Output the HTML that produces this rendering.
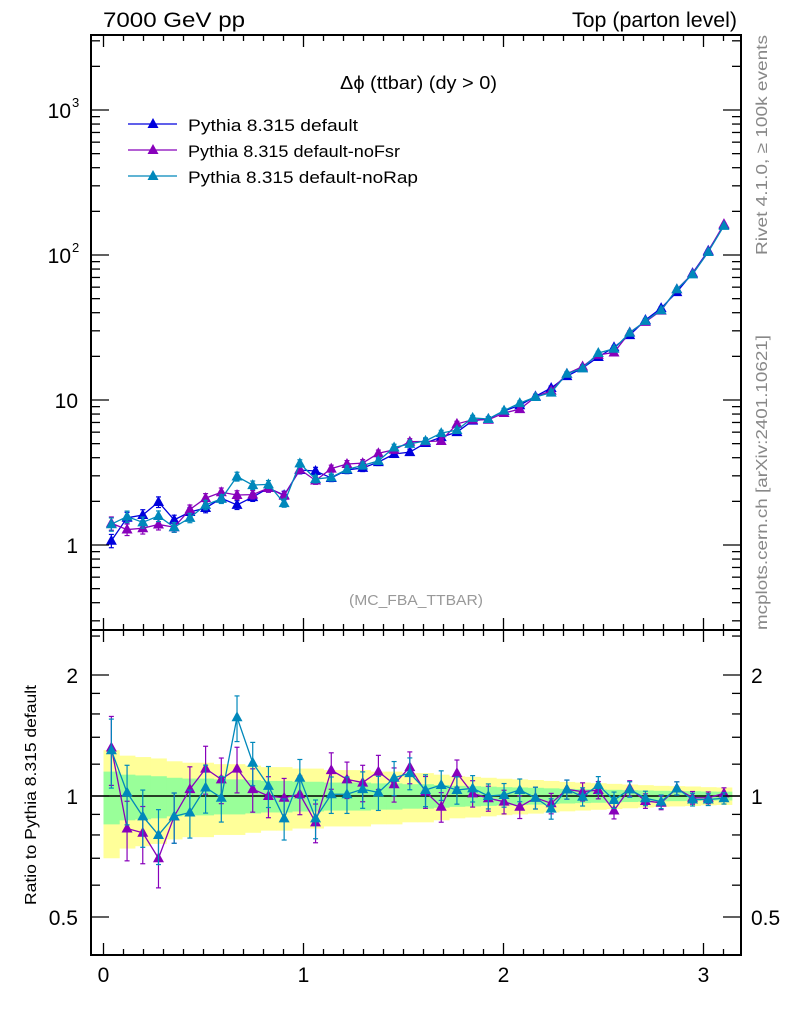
<!DOCTYPE html>
<html><head><meta charset="utf-8"><style>
html,body{margin:0;padding:0;background:#fff;}
svg{display:block;font-family:"Liberation Sans",Arial,sans-serif;}
</style></head><body>
<svg id="chart" width="786" height="1024" viewBox="0 0 786 1024"></svg>
<script>
const binEdgesCount = 40;
const binWidth = Math.PI/40;
const defaultVals = [1.07,1.54,1.61,1.98,1.49,1.69,1.80,2.10,1.89,2.14,2.47,2.21,3.29,3.24,2.90,3.29,3.40,3.73,4.24,4.37,5.05,5.55,6.0,7.2,7.4,8.4,9.2,10.6,12.1,14.6,16.6,19.8,23.1,28,35.6,43,55.5,75,107,161];
const ratioNoFsr = [1.32,0.83,0.81,0.70,0.89,1.04,1.17,1.10,1.17,1.04,1.0,0.99,1.01,0.86,1.16,1.10,1.08,1.15,1.07,1.18,1.025,0.94,1.14,1.015,0.987,0.968,0.94,0.99,0.959,1.039,1.025,1.035,0.92,1.045,0.972,0.962,1.045,0.99,0.99,1.015];
const ratioNoRap = [1.30,1.02,0.89,0.80,0.89,0.91,1.05,0.99,1.57,1.21,1.06,0.88,1.11,0.88,1.01,1.01,1.04,1.02,1.11,1.14,1.035,1.065,1.035,1.045,1.0,1.006,1.035,0.99,0.93,1.039,0.996,1.065,0.977,1.039,0.987,0.968,1.045,0.98,0.98,0.987];
const errRel = [0.15,0.13,0.125,0.12,0.11,0.105,0.105,0.10,0.10,0.095,0.09,0.09,0.085,0.085,0.08,0.08,0.08,0.075,0.075,0.07,0.07,0.065,0.06,0.058,0.055,0.052,0.05,0.048,0.045,0.042,0.04,0.038,0.036,0.034,0.032,0.03,0.029,0.028,0.026,0.025];
const xTickLabels = ["0","1","2","3"];
const yMainLabels = [["1",0],["10",1],["10²",2],["10³",3]];
const yRatioLabels = [["0.5",0.5],["1",1],["2",2]];

const NS="http://www.w3.org/2000/svg";
const svg=document.getElementById('chart');
function el(tag,attrs,parent){const e=document.createElementNS(NS,tag);for(const k in attrs)e.setAttribute(k,attrs[k]);(parent||svg).appendChild(e);return e;}
const L=91,R=741,T=35,MB=630,RB=955;
const xmin=-0.0625,xmax=3.1875;
function X(v){return L+(v-xmin)/(xmax-xmin)*(R-L);}
function YM(v){return 545-Math.log10(v)*145;}
function YR(r){return 796-Math.log2(r)*121;}
const ratioVals={noFsr:ratioNoFsr,noRap:ratioNoRap};

const gB=el('g',{});


for(let i=0;i<binEdgesCount;i++){
  const x0=X(i*binWidth),x1=X((i+1)*binWidth);
  const e=errRel[i];
  const y=el('rect',{x:x0,y:YR(1+2*e),width:x1-x0+0.5,height:YR(Math.max(1-2*e,0.05))-YR(1+2*e),fill:'#ffff99'},gB);
  
  
}
for(let i=0;i<binEdgesCount;i++){
  const x0=X(i*binWidth),x1=X((i+1)*binWidth);
  const e=errRel[i];
  const g=el('rect',{x:x0,y:YR(1+e),width:x1-x0+0.5,height:YR(1-e)-YR(1+e),fill:'#99ff99'},gB);
  
  
}
const ref=el('line',{x1:L,x2:R,y1:YR(1),y2:YR(1),stroke:'#000','stroke-width':1.5});



function tri(x,y,c,g){return el('polygon',{points:`${x},${y-6} ${x-5.5},${y+4} ${x+5.5},${y+4}`,fill:c},g);}
function series(name,vals,errs,col,Yf){
  const g=el('g',{});
  
  
  let pts=vals.map((v,i)=>[X((i+0.5)*binWidth),Yf(v)]);
  el('polyline',{points:pts.map(p=>p.join(',')).join(' '),fill:'none',stroke:col,'stroke-width':1.3},g);
  vals.forEach((v,i)=>{
    const x=pts[i][0],e=errs[i];
    const y1=Yf(v*(1+e)),y2=Yf(v*(1-e));
    el('line',{x1:x,x2:x,y1:y1,y2:y2,stroke:col,'stroke-width':1.2},g);
    el('line',{x1:x-2.5,x2:x+2.5,y1:y1,y2:y1,stroke:col,'stroke-width':1.2},g);
    el('line',{x1:x-2.5,x2:x+2.5,y1:y2,y2:y2,stroke:col,'stroke-width':1.2},g);
    const m=tri(x,pts[i][1],col,g);
    
    
  });
}
const cB='#0000dd',cP='#8800bb',cT='#0088bb';
const mainErr=errRel.map(e=>e*0.7);
series('series-default',defaultVals,mainErr,cB,YM);
series('series-noFsr',defaultVals.map((v,i)=>v*ratioVals.noFsr[i]),mainErr,cP,YM);
series('series-noRap',defaultVals.map((v,i)=>v*ratioVals.noRap[i]),mainErr,cT,YM);
const rErr=errRel.map(e=>e*1.3);
series('ratio-noFsr',ratioVals.noFsr,rErr,cP,YR);
series('ratio-noRap',ratioVals.noRap,rErr,cT,YR);

const f1=el('rect',{x:L,y:T,width:R-L,height:MB-T,fill:'none',stroke:'#000','stroke-width':2});


const f2=el('rect',{x:L,y:MB,width:R-L,height:RB-MB,fill:'none',stroke:'#000','stroke-width':2});



const tk=el('g',{stroke:'#000','stroke-width':1.3});


for(let k=0;k<=31;k++){
  const v=k/10,x=X(v),len=(k%10===0)?12:6;
  [[T,T+len],[MB,MB-len],[MB,MB+len],[RB,RB-len]].forEach(([a,b])=>el('line',{x1:x,x2:x,y1:a,y2:b},tk));
}
for(let d=-1;d<=3;d++)for(let m=1;m<=9;m++){
  const v=m*Math.pow(10,d),y=YM(v);
  if(y<T||y>MB)continue;
  const len=m===1?18:9;
  el('line',{x1:L,x2:L+len,y1:y,y2:y},tk);el('line',{x1:R,x2:R-len,y1:y,y2:y},tk);
}
[0.5,0.6,0.7,0.8,0.9,1,1.2,1.4,1.6,1.8,2,2.5].forEach(v=>{
  const y=YR(v),len=(v===0.5||v===1||v===2)?18:9;
  el('line',{x1:L,x2:L+len,y1:y,y2:y},tk);el('line',{x1:R,x2:R-len,y1:y,y2:y},tk);
});

function txt(s,attrs,name){const t=el('text',attrs);t.textContent=s;return t;}
xTickLabels.forEach(s=>txt(s,{x:X(+s),y:982,'font-size':21,'text-anchor':'middle'},'x-tick-label'));
yMainLabels.forEach(([s,d])=>{
  if(d>=2){txt('10',{x:71,y:YM(Math.pow(10,d))+8,'font-size':21,'text-anchor':'end'},'y-tick-label');
    txt(String(d),{x:72,y:YM(Math.pow(10,d))-3,'font-size':13},'y-tick-exponent');}
  else txt(s,{x:78,y:YM(Math.pow(10,d))+8,'font-size':21,'text-anchor':'end'},'y-tick-label');
});
yRatioLabels.forEach(([s,v])=>{
  txt(s,{x:78,y:YR(v)+8,'font-size':21,'text-anchor':'end'},'ratio-y-tick-label');
  txt(s,{x:751,y:YR(v)+8,'font-size':21},'ratio-y-tick-label-right');
});
txt('7000 GeV pp',{x:103,y:27,'font-size':21,textLength:142,lengthAdjust:'spacingAndGlyphs'},'beam-label');
txt('Top (parton level)',{x:572,y:27,'font-size':21,textLength:165,lengthAdjust:'spacingAndGlyphs'},'process-label');
txt('Δϕ (ttbar) (dy > 0)',{x:340,y:89,'font-size':18,textLength:157,lengthAdjust:'spacingAndGlyphs'},'plot-title');
txt('(MC_FBA_TTBAR)',{x:349,y:605,'font-size':15,fill:'#999',textLength:134,lengthAdjust:'spacingAndGlyphs'},'analysis-label');
txt('Rivet 4.1.0, ≥ 100k events',{x:0,y:0,'font-size':16,fill:'#888',textLength:220,lengthAdjust:'spacingAndGlyphs',transform:'translate(767,255) rotate(-90)'},'rivet-label');
txt('mcplots.cern.ch [arXiv:2401.10621]',{x:0,y:0,'font-size':16,fill:'#888',textLength:295,lengthAdjust:'spacingAndGlyphs',transform:'translate(767,630) rotate(-90)'},'mcplots-label');
txt('Ratio to Pythia 8.315 default',{x:0,y:0,'font-size':16,textLength:220,lengthAdjust:'spacingAndGlyphs',transform:'translate(36,905) rotate(-90)'},'ratio-y-axis-title');

const legNames=['Pythia 8.315 default','Pythia 8.315 default-noFsr','Pythia 8.315 default-noRap'];
const legLens=[170,212,230];
const legCols=[cB,cP,cT];
legNames.forEach((n,i)=>{
  const g=el('g',{});
  
  
  const y=124+i*26;
  el('line',{x1:128,x2:177,y1:y,y2:y,stroke:legCols[i],'stroke-width':1.3},g);
  tri(153,y,legCols[i],g);
  const t=el('text',{x:188,y:y+7,'font-size':17,textLength:legLens[i],lengthAdjust:'spacingAndGlyphs'},g);t.textContent=n;
});
</script>
</body></html>
